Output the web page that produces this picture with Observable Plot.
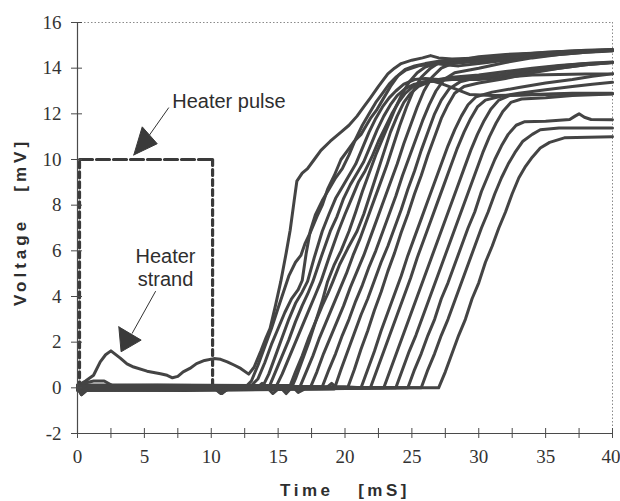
<!DOCTYPE html>
<html>
<head>
<meta charset="utf-8">
<script src="https://cdn.jsdelivr.net/npm/d3@7"></script>
<script src="https://cdn.jsdelivr.net/npm/@observablehq/plot@0.6"></script>
<style>
  html, body { margin: 0; padding: 0; background: #fff; }
  #chart { width: 620px; height: 501px; }
</style>
</head>
<body>
<div id="chart"></div>
<script>
// ---------- axis ticks ----------
const xTickLabels = [0, 5, 10, 15, 20, 25, 30, 35, 40];
const xTickMarks = [0, 2.5, 5, 7.5, 10, 12.5, 15, 17.5, 20, 22.5, 25, 27.5, 30, 32.5, 35, 37.5, 40];
const yTickLabels = [-2, 0, 2, 4, 6, 8, 10, 12, 14, 16];

// ---------- heater pulse (dashed box) ----------
const pulseTime = [0.15, 0.15, 10.1, 10.1];
const pulseVolt = [0, 10, 10, 0];

// ---------- quench voltage traces [time mS, voltage mV] ----------
// heater strand (bumps at ~2.5 and ~10 mS, then quenches first)
const heaterStrand = [[0,0.1],[0.6,0.3],[1.2,0.55],[1.7,1.14],[2.1,1.45],[2.5,1.62],[3.2,1.3],[3.7,1.05],[4.2,0.91],[5.2,0.73],[6.2,0.62],[6.7,0.55],[7.1,0.44],[7.5,0.5],[7.9,0.7],[8.4,0.85],[8.9,1.06],[9.5,1.2],[10.2,1.28],[10.7,1.25],[11.2,1.14],[11.7,1.0],[12.2,0.85],[12.8,0.6],[13.2,0.9],[13.7,1.6],[14.1,2.2],[14.4,2.6],[14.8,3.6],[15.2,4.66],[15.6,5.9],[15.9,6.9],[16.2,8.2],[16.4,9.05],[16.8,9.4],[17.2,9.6],[17.7,10.0],[18.2,10.4],[18.9,10.8],[19.7,11.2],[20.3,11.5],[20.9,11.9],[21.4,12.3],[21.9,12.7],[22.5,13.2],[23.2,13.75],[23.7,14.0],[24.2,14.2],[25.0,14.35],[25.8,14.45],[26.4,14.55],[27,14.45],[28,14.4],[30,14.45],[32,14.55],[34,14.62],[36,14.7],[38,14.76],[40,14.8]];
const trace02 = [[0,0],[0.3,-0.25],[0.8,0],[12.5,0],[13.0,0.3],[13.5,1.0],[14.0,1.8],[14.5,2.6],[15.0,3.5],[15.4,4.2],[15.8,4.9],[16.3,5.5],[16.7,5.8],[17.0,6.3],[17.4,6.8],[17.9,7.5],[18.3,8.0],[18.7,8.7],[19.2,9.3],[19.7,10.0],[20.2,10.4],[20.7,10.8],[21.2,11.1],[21.6,11.5],[21.9,11.8],[22.4,12.2],[22.8,12.6],[23.4,13.2],[24.0,13.7],[24.5,13.95],[25.2,14.1],[26,14.2],[27,14.3],[28.5,14.35],[30,14.5],[32,14.6],[34,14.65],[36,14.72],[38,14.78],[40,14.82]];
const trace03 = [[0,0.1],[6,0.12],[13.0,0.1],[13.5,0.4],[14.0,1.1],[14.5,1.9],[15.0,2.6],[15.5,3.3],[16.0,3.9],[16.5,4.3],[16.8,4.7],[17.1,5.9],[17.4,6.86],[17.8,7.6],[18.3,8.2],[18.8,8.7],[19.3,9.2],[19.8,9.6],[20.3,10.2],[20.8,10.9],[21.3,11.5],[21.8,12.0],[22.3,12.5],[22.8,12.9],[23.3,13.3],[23.8,13.6],[24.5,13.9],[25.5,14.1],[27,14.2],[29,14.3],[31,14.45],[33,14.55],[35,14.65],[37,14.72],[40,14.78]];
const trace04 = [[0,0],[13.8,0],[14.3,0.6],[14.8,1.4],[15.3,2.2],[15.8,3.0],[16.3,3.7],[16.8,4.2],[17.2,4.66],[17.7,5.7],[18.3,6.86],[18.8,7.6],[19.3,8.3],[19.8,8.8],[20.3,9.3],[20.8,9.8],[21.3,10.5],[21.8,11.2],[22.3,11.8],[22.8,12.3],[23.3,12.7],[23.8,13.0],[24.4,13.3],[25.2,13.5],[26,13.55],[27,13.5],[28,13.6],[30,13.7],[32,13.85],[34,14.0],[36,14.12],[38,14.2],[40,14.25]];
const trace05 = [[0,0],[10.3,0],[10.8,-0.25],[11.3,0],[14.3,0],[14.8,0.7],[15.3,1.4],[15.8,2.1],[16.3,2.9],[16.8,3.6],[17.2,4.1],[17.6,4.66],[18.2,5.7],[18.9,6.86],[19.4,7.5],[19.9,8.3],[20.4,8.9],[20.9,9.4],[21.4,9.9],[21.9,10.6],[22.4,11.3],[22.9,11.9],[23.4,12.4],[23.9,12.8],[24.5,13.1],[25.2,13.3],[26,13.4],[27,13.45],[28,13.5],[30,13.5],[32,13.6],[34,13.7],[36,13.72],[38,13.74],[40,13.75]];
const trace06 = [[0,0],[0.3,-0.3],[0.9,0],[14.8,0],[15.3,0.6],[15.8,1.3],[16.3,2.0],[16.8,2.7],[17.3,3.4],[17.8,4.1],[18.2,4.66],[18.8,5.7],[19.5,6.86],[20.0,7.6],[20.5,8.3],[21.0,9.0],[21.5,9.5],[22.0,10.1],[22.5,10.8],[23.0,11.4],[23.5,12.0],[24.0,12.5],[24.5,12.9],[25.1,13.2],[25.8,13.4],[26.5,13.45],[27.3,13.3],[28,13.15],[29.3,12.85],[31,12.8],[33,12.82],[35,12.85],[37,12.87],[40,12.88]];
const trace07 = [[0,0],[15.2,0],[15.6,-0.25],[16.0,0],[16.3,0.4],[16.8,1.2],[17.3,2.0],[17.8,2.9],[18.3,3.8],[18.7,4.66],[19.2,5.4],[19.7,6.0],[20.3,6.86],[20.8,7.7],[21.3,8.6],[21.8,9.4],[22.3,10.2],[22.8,10.9],[23.3,11.6],[23.8,12.3],[24.3,12.9],[24.8,13.4],[25.4,13.8],[26,14.05],[26.8,14.2],[27.5,14.15],[28.5,14.1],[30,14.2],[32,14.35],[34,14.5],[36,14.6],[38,14.7],[40,14.75]];
const trace08 = [[0,-0.1],[8,-0.12],[15.8,-0.05],[16.3,0.7],[16.8,1.4],[17.3,2.2],[17.8,2.9],[18.3,3.6],[18.7,4.1],[19.1,4.66],[19.6,5.4],[20.2,6.1],[20.9,6.86],[21.4,7.6],[21.9,8.5],[22.4,9.4],[22.9,10.3],[23.4,11.2],[23.9,11.9],[24.4,12.5],[24.9,12.9],[25.5,13.2],[26.3,13.4],[27.2,13.5],[28.5,13.55],[30,13.6],[32,13.7],[34,13.85],[36,14.0],[38,14.15],[40,14.25]];
const trace09 = [[0,0.05],[16.6,0],[17.1,0.7],[17.6,1.4],[18.1,2.2],[18.6,2.9],[19.1,3.6],[19.6,4.3],[20.1,5.0],[20.6,5.8],[21.1,6.5],[21.6,7.3],[22.1,8.1],[22.6,8.9],[23.1,9.7],[23.6,10.6],[24.1,11.5],[24.6,12.3],[25.1,13.0],[25.7,13.6],[26.4,14.0],[27.2,14.3],[29,14.4],[31,14.5],[33,14.6],[35,14.7],[37,14.75],[40,14.8]];
const trace10 = [[0,0],[0.3,-0.3],[0.8,-0.05],[17.4,0],[17.9,0.7],[18.4,1.5],[18.9,2.2],[19.4,2.9],[19.9,3.6],[20.4,4.4],[20.9,5.1],[21.4,5.8],[21.9,6.6],[22.4,7.4],[22.9,8.2],[23.4,9.0],[23.9,9.8],[24.4,10.7],[24.9,11.5],[25.4,12.3],[25.9,13.0],[26.5,13.6],[27.2,14.0],[28,14.2],[30,14.3],[32,14.45],[34,14.6],[36,14.7],[40,14.8]];
const trace11 = [[0,0.12],[9,0.1],[18.3,0.05],[18.8,0.8],[19.3,1.5],[19.8,2.3],[20.3,3.0],[20.8,3.8],[21.3,4.5],[21.8,5.3],[22.3,6.0],[22.8,6.8],[23.3,7.6],[23.8,8.4],[24.3,9.3],[24.8,10.1],[25.3,10.9],[25.8,11.7],[26.3,12.4],[26.8,13.0],[27.4,13.5],[28.2,13.8],[30,14.0],[32,14.25],[34,14.45],[36,14.6],[38,14.7],[40,14.78]];
const trace12 = [[0,-0.12],[10,-0.1],[19.2,-0.05],[19.7,0.8],[20.2,1.6],[20.7,2.4],[21.2,3.2],[21.7,3.9],[22.2,4.7],[22.7,5.5],[23.2,6.2],[23.7,7.0],[24.2,7.8],[24.7,8.7],[25.2,9.5],[25.7,10.4],[26.2,11.2],[26.7,12.0],[27.2,12.6],[27.8,13.1],[28.6,13.4],[30,13.6],[32,13.75],[34,13.95],[36,14.1],[38,14.2],[40,14.27]];
const trace13 = [[0,0],[13.4,0],[13.8,0.2],[14.2,0],[20.2,0],[20.7,0.8],[21.2,1.7],[21.7,2.5],[22.2,3.4],[22.7,4.2],[23.2,5.1],[23.7,5.9],[24.2,6.8],[24.7,7.6],[25.2,8.5],[25.7,9.3],[26.2,10.2],[26.7,11.0],[27.2,11.8],[27.7,12.4],[28.2,12.9],[28.9,13.2],[30,13.35],[32,13.55],[34,13.8],[36,14.0],[38,14.15],[40,14.25]];
const trace14 = [[0,0.08],[10,0.08],[20,0.05],[21.2,0],[21.7,0.8],[22.2,1.6],[22.7,2.5],[23.2,3.3],[23.7,4.1],[24.2,4.9],[24.7,5.8],[25.2,6.6],[25.7,7.4],[26.2,8.2],[26.7,9.0],[27.2,9.8],[27.7,10.6],[28.2,11.3],[28.7,11.9],[29.2,12.4],[29.8,12.75],[31,12.95],[33,13.15],[35,13.35],[37,13.5],[38.5,13.65],[40,13.75]];
const trace15 = [[0,-0.1],[6,-0.1],[12,-0.05],[21.9,0],[22.4,0.8],[22.9,1.6],[23.4,2.4],[23.9,3.2],[24.4,4.0],[24.9,4.8],[25.4,5.7],[25.9,6.5],[26.4,7.3],[26.9,8.1],[27.4,8.9],[27.9,9.7],[28.4,10.5],[28.9,11.2],[29.4,11.8],[29.9,12.3],[30.5,12.6],[31.5,12.75],[33,12.9],[35,13.05],[37,13.2],[38.5,13.3],[40,13.38]];
const trace16 = [[0,0],[10.3,0],[10.7,-0.25],[11.3,-0.05],[22.9,0],[23.4,0.8],[23.9,1.6],[24.4,2.4],[24.9,3.2],[25.4,4.0],[25.9,4.8],[26.4,5.6],[26.9,6.4],[27.4,7.2],[27.9,8.0],[28.4,8.8],[28.9,9.6],[29.4,10.4],[29.9,11.1],[30.4,11.7],[30.9,12.2],[31.5,12.6],[32.3,12.8],[34,12.85],[37,12.9],[40,12.9]];
const trace17 = [[0,0],[0.5,0.2],[1.2,0.3],[2.0,0.3],[2.6,0.1],[3.2,0],[18.6,0],[19.0,0.2],[19.4,0],[23.8,0],[24.3,0.8],[24.8,1.6],[25.3,2.3],[25.8,3.1],[26.3,3.9],[26.8,4.7],[27.3,5.5],[27.8,6.3],[28.3,7.1],[28.8,7.9],[29.3,8.7],[29.8,9.5],[30.3,10.3],[30.8,11.0],[31.3,11.6],[31.8,12.1],[32.4,12.5],[33.2,12.65],[35,12.7],[37,12.8],[40,12.87]];
const trace18 = [[0,0.05],[1,0.1],[16,0.1],[16.5,-0.2],[17,-0.05],[24.7,0],[25.2,0.8],[25.7,1.5],[26.2,2.3],[26.7,3.0],[27.2,3.9],[27.7,4.6],[28.2,5.4],[28.7,6.2],[29.2,7.0],[29.7,7.7],[30.2,8.6],[30.7,9.3],[31.2,10.0],[31.7,10.6],[32.2,11.1],[32.8,11.5],[33.4,11.65],[35,11.68],[36.8,11.75],[37.2,11.9],[37.5,12.0],[37.9,11.85],[38.4,11.75],[40,11.74]];
const trace19 = [[0,0],[14.2,0],[14.6,-0.25],[15.1,0],[25.7,0],[26.2,0.8],[26.7,1.5],[27.2,2.3],[27.7,3.0],[28.2,3.8],[28.7,4.6],[29.2,5.4],[29.7,6.2],[30.2,7.0],[30.7,7.7],[31.2,8.5],[31.7,9.2],[32.2,9.8],[32.7,10.3],[33.3,10.8],[34,11.1],[34.6,11.3],[36,11.38],[40,11.38]];
const trace20 = [[0,0],[0.3,-0.15],[0.8,0],[10.2,0],[10.6,-0.2],[11.2,0],[27,0],[27.5,0.7],[28,1.5],[28.5,2.3],[29,3.0],[29.5,3.9],[30,4.6],[30.5,5.5],[31,6.2],[31.5,7.0],[32,7.7],[32.5,8.5],[33,9.2],[33.5,9.7],[34,10.1],[34.6,10.5],[35.3,10.75],[36.4,10.95],[40,11.0]];

// ---------- annotations ----------
const pulseArrowLineT = [6.81, 5.39];
const pulseArrowLineV = [12.26, 11.08];
const pulseArrowHeadT = [4.21, 4.84, 5.96, 4.21];
const pulseArrowHeadV = [10.2, 11.43, 10.69, 10.2];
const strandArrowLineT = [5.83, 4.09];
const strandArrowLineV = [4.22, 2.39];
const strandArrowHeadT = [3.09, 3.26, 4.76, 3.09];
const strandArrowHeadV = [2.67, 1.58, 2.09, 2.67];
const pulseLabel = "Heater pulse";
const pulseLabelPos = [7.08, 12.86];
const strandLabel = "Heater\nstrand";
const strandLabelPos = [6.58, 6.18];
const xTitle = "Time\u00a0\u00a0\u00a0[mS]";
const yTitle = "Voltage\u00a0\u00a0\u00a0[mV]";

// ---------- build tables ----------
const traces = [heaterStrand, trace02, trace03, trace04, trace05, trace06, trace07, trace08, trace09, trace10,
  trace11, trace12, trace13, trace14, trace15, trace16, trace17, trace18, trace19, trace20];
const rows = traces.flatMap((tr, k) => tr.map(([t, v]) => ({id: k, t, v})));
const idx = (n) => d3.range(n);
const lastX = xTickLabels[xTickLabels.length - 1];

const INK = "#444444";
const AXIS = "#4a4a4a";
const sans = "'Liberation Sans', Arial, Helvetica, sans-serif";
const serif = "'Liberation Serif', 'Times New Roman', serif";

const chart = Plot.plot({
  width: 620,
  height: 501,
  marginLeft: 77,
  marginRight: 8,
  marginTop: 22,
  marginBottom: 68,
  style: {background: "#fff", color: "#333"},
  x: {domain: [0, 40]},
  y: {domain: [-2, 16]},
  marks: [
    // dotted frame top/right
    Plot.ruleY([16], {stroke: "#8a8a8a", strokeWidth: 1, strokeDasharray: "1.5,2"}),
    Plot.ruleX([40], {stroke: "#8a8a8a", strokeWidth: 1, strokeDasharray: "1.5,2"}),
    // heater pulse dashed box
    Plot.line([0, 1], {x: i => pulseTime[i], y: i => pulseVolt[i], stroke: "#3a3a3a", strokeWidth: 3.2, strokeDasharray: "6,4"}),
    Plot.line([1, 2], {x: i => pulseTime[i], y: i => pulseVolt[i], stroke: "#3a3a3a", strokeWidth: 3.2, strokeDasharray: "13,4"}),
    Plot.line([2, 3], {x: i => pulseTime[i], y: i => pulseVolt[i], stroke: "#3a3a3a", strokeWidth: 3.2, strokeDasharray: "6,4"}),
    // traces
    Plot.line(rows, {x: "t", y: "v", z: "id", stroke: INK, strokeWidth: 3, strokeLinejoin: "round", strokeLinecap: "round", curve: "linear"}),
    // arrows
    Plot.line(idx(2), {x: i => pulseArrowLineT[i], y: i => pulseArrowLineV[i], stroke: "#333", strokeWidth: 1}),
    Plot.line(idx(4), {x: i => pulseArrowHeadT[i], y: i => pulseArrowHeadV[i], stroke: "#3a3a3a", fill: "#3a3a3a", strokeWidth: 1}),
    Plot.line(idx(2), {x: i => strandArrowLineT[i], y: i => strandArrowLineV[i], stroke: "#333", strokeWidth: 1}),
    Plot.line(idx(4), {x: i => strandArrowHeadT[i], y: i => strandArrowHeadV[i], stroke: "#3a3a3a", fill: "#3a3a3a", strokeWidth: 1}),
    // annotation text
    Plot.text([pulseLabel], {x: () => pulseLabelPos[0], y: () => pulseLabelPos[1], textAnchor: "start",
      lineAnchor: "top", fontSize: 20, fontFamily: sans, fill: "#2e2e2e"}),
    Plot.text([strandLabel], {x: () => strandLabelPos[0], y: () => strandLabelPos[1], textAnchor: "middle",
      lineAnchor: "top", lineHeight: 1.15, fontSize: 20, fontFamily: sans, fill: "#2e2e2e"}),
    // axes lines
    Plot.ruleX([0], {stroke: AXIS, strokeWidth: 1.2}),
    Plot.ruleY([-2], {stroke: AXIS, strokeWidth: 1.2}),
    // crossing tick marks
    Plot.ruleX(xTickMarks, {x: d => d, y1: () => -2, y2: () => -2, insetTop: -5, insetBottom: -5, stroke: AXIS, strokeWidth: 1}),
    Plot.ruleY(yTickLabels, {y: d => d, x1: () => 0, x2: () => 0, insetLeft: -6, insetRight: -5, stroke: AXIS, strokeWidth: 1}),
    // tick labels
    Plot.axisX(xTickLabels.filter(d => d !== lastX), {tickSize: 0, tickPadding: 16, fontSize: 19, fontFamily: serif, label: null, fill: "#333", tickFormat: d => String(d)}),
    Plot.text([lastX], {x: d => d, frameAnchor: "bottom", lineAnchor: "top", textAnchor: "end", dx: 8, dy: 16, fontSize: 19, fontFamily: serif, fill: "#333", text: d => String(d)}),
    Plot.axisY(yTickLabels, {tickSize: 0, tickPadding: 16, fontSize: 19, fontFamily: serif, label: null, fill: "#333", tickFormat: d => String(d)}),
    // axis titles
    Plot.text([xTitle], {frameAnchor: "bottom", textAnchor: "middle", lineAnchor: "bottom", dy: 62, fontSize: 17, fontWeight: "bold", fontFamily: sans, fill: "#2e2e2e"}),
    Plot.text([yTitle], {frameAnchor: "left", textAnchor: "middle", rotate: -90, dx: -57, dy: -6, fontSize: 17, fontWeight: "bold", fontFamily: sans, fill: "#2e2e2e"})
  ]
});

document.getElementById("chart").appendChild(chart);

// letter-spacing for the bold axis titles
d3.select(chart).selectAll("text").each(function () {
  const s = this.textContent;
  if (s.indexOf("[mS]") >= 0) d3.select(this).style("letter-spacing", "3.5px");
  if (s.indexOf("[mV]") >= 0) d3.select(this).style("letter-spacing", "4px");
});
</script>
</body>
</html>
